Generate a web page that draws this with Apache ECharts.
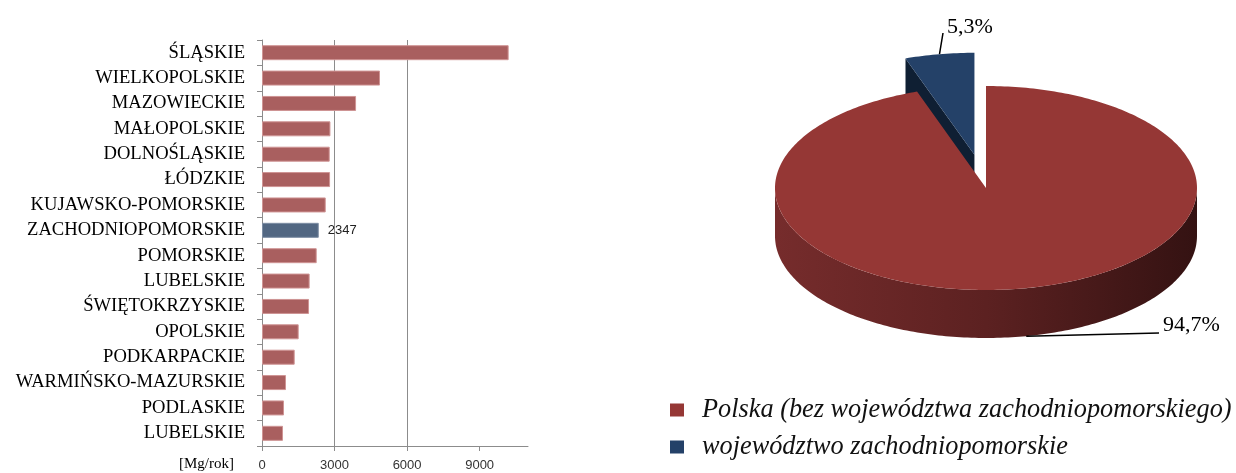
<!DOCTYPE html>
<html>
<head>
<meta charset="utf-8">
<script src="https://cdn.jsdelivr.net/npm/echarts@6.0.0/dist/echarts.min.js"></script>
<style>
  html, body { margin: 0; padding: 0; background: #fff; }
  #chart { width: 1236px; height: 473px; }
</style>
</head>
<body>
<div id="chart"></div>
<script>
// dane - wykres słupkowy (Mg/rok)
const regions = ['ŚLĄSKIE', 'WIELKOPOLSKIE', 'MAZOWIECKIE', 'MAŁOPOLSKIE', 'DOLNOŚLĄSKIE', 'ŁÓDZKIE',
  'KUJAWSKO-POMORSKIE', 'ZACHODNIOPOMORSKIE', 'POMORSKIE', 'LUBELSKIE', 'ŚWIĘTOKRZYSKIE', 'OPOLSKIE',
  'PODKARPACKIE', 'WARMIŃSKO-MAZURSKIE', 'PODLASKIE', 'LUBELSKIE']
const regionValues = [10200, 4880, 3890, 2830, 2800, 2815, 2635, 2347, 2262, 1970, 1945, 1517, 1352, 993, 910, 869]
const xTicks = [0, 3000, 6000, 9000]
const highlighted = 'ZACHODNIOPOMORSKIE'

// dane - wykres kołowy (%)
const pieNames = ['Polska (bez województwa zachodniopomorskiego)', 'województwo zachodniopomorskie']
const pieValues = [94.7, 5.3]

const RED = '#a95f5f'
const BLUE = '#526782'

// geometria "3D" koła
const PIE = { cx: 986, cy: 188, rx: 211, ry: 102, depth: 48 }
const pieTop = ['#953735', '#244168']
const pieFace = ['#5e2222', '#0f1f33']
const pieExplode = [0, 0.33]
const pieLeader = [
  { angle: 169, bottom: true, to: [1159, 333], text: [1163, 325] },
  { angle: null, bottom: false, to: [943, 33], text: [947, 27] }
]

const serif = 'Liberation Serif, Times New Roman, serif'
const sans = 'Liberation Sans, Arial, sans-serif'

function ellipsePt (c, theta, dy) {
  const r = theta * Math.PI / 180
  return [c[0] + PIE.rx * Math.sin(r), c[1] - PIE.ry * Math.cos(r) + (dy || 0)]
}

function arc (c, a0, a1, dy) {
  const pts = []
  const n = Math.max(2, Math.ceil(Math.abs(a1 - a0)))
  for (let k = 0; k <= n; k++) {
    pts.push(ellipsePt(c, a0 + (a1 - a0) * k / n, dy))
  }
  return pts
}

function sliceRenderer (i) {
  return function (params, api) {
    const total = pieValues.reduce((a, b) => a + b, 0)
    const before = pieValues.slice(0, i).reduce((a, b) => a + b, 0)
    const start = before / total * 360
    const end = start + api.value(0) / total * 360
    const mid = (start + end) / 2
    const mr = mid * Math.PI / 180
    const ex = pieExplode[i]
    const c = [PIE.cx + ex * PIE.rx * Math.sin(mr), PIE.cy - ex * PIE.ry * Math.cos(mr)]
    const d = PIE.depth
    const children = []

    // ściana promieniowa (widoczna przy wysuniętym wycinku)
    const r0 = ellipsePt(c, start)
    children.push({
      type: 'polygon',
      z2: 1,
      shape: { points: [c, r0, [r0[0], r0[1] + d], [c[0], c[1] + d]] },
      style: { fill: pieFace[i] }
    })

    // ściana boczna - tylko przednia część
    const a0 = Math.max(start, 90)
    const a1 = Math.min(end, 270)
    if (a1 > a0) {
      children.push({
        type: 'polygon',
        z2: 2,
        shape: { points: arc(c, a0, a1, 0).concat(arc(c, a1, a0, d)) },
        style: {
          fill: new echarts.graphic.LinearGradient(0, 0, 1, 0, [
            { offset: 0, color: '#762c2c' },
            { offset: 0.5, color: '#5c2121' },
            { offset: 1, color: '#341212' }
          ])
        }
      })
    }

    // wierzch
    children.push({
      type: 'polygon',
      z2: 3,
      shape: { points: [c].concat(arc(c, start, end, 0)) },
      style: { fill: pieTop[i] }
    })

    // etykieta z linią
    const lead = pieLeader[i]
    const from = lead.angle === null
      ? ellipsePt(c, mid)
      : ellipsePt(c, lead.angle, lead.bottom ? d : 0)
    children.push({
      type: 'polyline',
      z2: 4,
      shape: { points: [from, lead.to] },
      style: { stroke: '#000', lineWidth: 1.5, fill: null }
    })
    children.push({
      type: 'text',
      z2: 4,
      style: {
        x: lead.text[0],
        y: lead.text[1],
        text: api.value(0).toFixed(1).replace('.', ',') + '%',
        font: '22px ' + serif,
        fill: '#000',
        align: 'left',
        verticalAlign: 'middle'
      }
    })
    return { type: 'group', children }
  }
}

const chart = echarts.init(document.getElementById('chart'))

const barData = regionValues.map((v, i) => {
  if (regions[i] !== highlighted) return v
  return {
    value: v,
    itemStyle: { color: BLUE, borderColor: '#7d8da3' },
    label: {
      show: true,
      position: 'right',
      distance: 9,
      fontFamily: sans,
      fontSize: 13,
      color: '#222'
    }
  }
})

chart.setOption({
  animation: false,
  grid: { left: 262, right: 708, top: 40, bottom: 27 },
  xAxis: {
    type: 'value',
    min: 0,
    max: 11000,
    interval: 3000,
    axisLine: { show: true, lineStyle: { color: '#8c8c8c' } },
    axisTick: { show: true, length: 5, lineStyle: { color: '#8c8c8c' }, customValues: xTicks },
    axisLabel: {
      margin: 13,
      fontFamily: sans,
      fontSize: 13,
      color: '#333',
      customValues: xTicks,
      formatter: (v) => String(v)
    },
    splitLine: { show: true, showMinLine: false, showMaxLine: false, lineStyle: { color: '#8c8c8c' } }
  },
  yAxis: {
    type: 'category',
    inverse: true,
    data: regions,
    axisLine: { show: true, lineStyle: { color: '#8c8c8c' } },
    axisTick: { show: true, length: 5, lineStyle: { color: '#8c8c8c' } },
    axisLabel: { margin: 17, fontFamily: serif, fontSize: 18.6, color: '#000' }
  },
  graphic: [{
    type: 'text',
    left: 179,
    top: 457,
    style: { text: '[Mg/rok]', font: '15px ' + serif, fill: '#000' }
  }],
  legend: {
    orient: 'vertical',
    left: 665,
    top: 392,
    icon: 'rect',
    itemWidth: 14,
    itemHeight: 13,
    itemGap: 11,
    data: pieNames,
    textStyle: {
      fontFamily: serif,
      fontStyle: 'italic',
      fontSize: 26.3,
      lineHeight: 26,
      color: '#111',
      padding: [0, 0, 0, 13]
    }
  },
  series: [
    {
      type: 'bar',
      data: barData,
      barWidth: 15,
      itemStyle: { color: RED, borderColor: '#cf9494', borderWidth: 1 },
      legendHoverLink: false
    }
  ].concat(pieNames.map((name, i) => ({
    type: 'custom',
    name,
    coordinateSystem: 'none',
    z: i === 0 ? 3 : 2,
    itemStyle: { color: pieTop[i] },
    data: [pieValues[i]],
    renderItem: sliceRenderer(i)
  })))
})
</script>
</body>
</html>
